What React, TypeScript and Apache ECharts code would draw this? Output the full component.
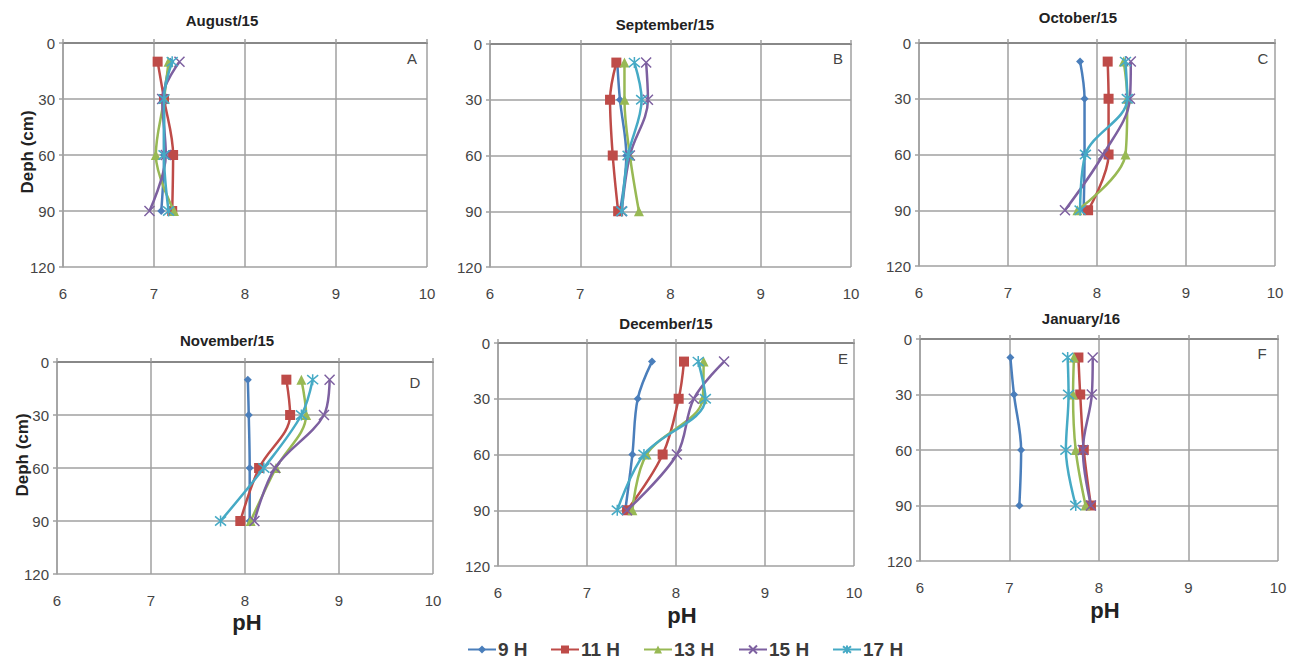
import React, { useEffect, useRef } from "react";
import * as echarts from "echarts";

// ---- data ----
const depths = [10, 30, 60, 90];
const seriesNames = ["9 H", "11 H", "13 H", "15 H", "17 H"];
const panelTitles = ["August/15", "September/15", "October/15", "November/15", "December/15", "January/16"];
const panelLetters = ["A", "B", "C", "D", "E", "F"];
const xTickMin = 6;
const xTickMax = 10;
const yTickMin = 0;
const yTickMax = 120;

// pH per series (9H, 11H, 13H, 15H, 17H) at depths 10, 30, 60, 90
const augustPH = [
  [7.18, 7.11, 7.11, 7.08],
  [7.04, 7.11, 7.21, 7.2],
  [7.16, 7.11, 7.02, 7.22],
  [7.28, 7.09, 7.13, 6.95],
  [7.2, 7.11, 7.11, 7.16],
];
const septemberPH = [
  [7.41, 7.44, 7.51, 7.44],
  [7.4, 7.33, 7.36, 7.42],
  [7.49, 7.49, 7.55, 7.65],
  [7.73, 7.75, 7.55, 7.46],
  [7.6, 7.68, 7.53, 7.46],
];
const octoberPH = [
  [7.81, 7.86, 7.86, 7.85],
  [8.12, 8.13, 8.13, 7.9],
  [8.3, 8.34, 8.32, 7.78],
  [8.38, 8.37, 8.07, 7.64],
  [8.32, 8.34, 7.87, 7.81],
];
const novemberPH = [
  [8.03, 8.04, 8.05, 8.05],
  [8.44, 8.48, 8.15, 7.95],
  [8.6, 8.65, 8.33, 8.06],
  [8.9, 8.84, 8.32, 8.1],
  [8.72, 8.6, 8.2, 7.74],
];
const decemberPH = [
  [7.73, 7.57, 7.51, 7.43],
  [8.09, 8.03, 7.85, 7.45],
  [8.31, 8.3, 7.67, 7.51],
  [8.54, 8.2, 8.01, 7.45],
  [8.25, 8.33, 7.64, 7.34],
];
const januaryPH = [
  [7.01, 7.05, 7.13, 7.11],
  [7.77, 7.79, 7.83, 7.91],
  [7.72, 7.71, 7.74, 7.85],
  [7.93, 7.92, 7.82, 7.91],
  [7.65, 7.66, 7.63, 7.74],
];
const panelData = [augustPH, septemberPH, octoberPH, novemberPH, decemberPH, januaryPH];

// ---- styling / layout ----
const colors = ["#4A7EBB", "#BE4B48", "#98B954", "#7D60A0", "#46AAC5"];
const symbols = [
  "diamond",
  "rect",
  "triangle",
  "path://M0,0L10,10M10,0L0,10",
  "path://M0,0L10,10M10,0L0,10M5,-1L5,11",
];
const symbolSizes = [8, 10, 10, 10, 11];

const grids = [
  { left: 63, top: 43, width: 364, height: 224 },
  { left: 490, top: 44, width: 361, height: 223 },
  { left: 919, top: 43, width: 356, height: 223 },
  { left: 57, top: 362, width: 376, height: 212 },
  { left: 498, top: 343, width: 356, height: 223 },
  { left: 920, top: 339, width: 358, height: 222 },
];
const titlePos = [
  [222, 20], [665, 24], [1078, 17], [227, 340], [666, 323], [1081, 318],
];
const letterPos = [
  [412, 58], [838, 58], [1263, 58], [415, 382], [843, 358], [1262, 353],
];
const legendLeft = [467, 550, 643, 738, 832];

const FONT = '"Liberation Sans", Arial, sans-serif';

export default function App() {
  const ref = useRef<HTMLDivElement>(null);
  useEffect(() => {
    if (!ref.current) return;
    const chart = echarts.init(ref.current, undefined, { renderer: "svg" });

    const xAxes: any[] = [];
    const yAxes: any[] = [];
    const series: any[] = [];
    grids.forEach((g, i) => {
      xAxes.push({
        gridIndex: i,
        type: "value",
        min: xTickMin,
        max: xTickMax,
        interval: 1,
        position: "bottom",
        axisLine: { show: false },
        axisTick: { show: false },
        axisLabel: { margin: 19, fontSize: 15, color: "#444", fontFamily: FONT },
        splitLine: { show: true, lineStyle: { color: "#a0a0a0", width: 1.5 } },
      });
      yAxes.push({
        gridIndex: i,
        type: "value",
        inverse: true,
        min: yTickMin,
        max: yTickMax,
        interval: 30,
        axisLine: { show: true, lineStyle: { color: "#a0a0a0", width: 1.5 } },
        axisTick: { show: true, length: 4, lineStyle: { color: "#a0a0a0", width: 1.5 } },
        axisLabel: { margin: 8, fontSize: 15, color: "#444", fontFamily: FONT },
        splitLine: { show: true, lineStyle: { color: "#a0a0a0", width: 1.5 } },
      });
      const rows = panelData[i];
      rows.forEach((vals, s) => {
        const isPath = s >= 3;
        series.push({
          name: seriesNames[s],
          type: "line",
          xAxisIndex: i,
          yAxisIndex: i,
          data: vals.map((v, k) => [v, depths[k]]),
          smooth: 0.35,
          symbol: symbols[s],
          symbolSize: symbolSizes[s],
          showSymbol: true,
          lineStyle: { color: colors[s], width: 2.5 },
          itemStyle: isPath
            ? { color: colors[s], borderColor: colors[s], borderWidth: 1.5 }
            : { color: colors[s] },
          z: 3 + s,
        });
      });
    });
    grids.forEach((g, i) => {
      xAxes.push({
        gridIndex: i,
        type: "value",
        min: xTickMin,
        max: xTickMax,
        interval: 1,
        position: "top",
        axisLine: { show: true, onZero: false, lineStyle: { color: "#888888", width: 2 } },
        axisTick: { show: true, length: 4, lineStyle: { color: "#a0a0a0", width: 1.5 } },
        axisLabel: { show: false },
        splitLine: { show: false },
      });
    });

    const graphic: any[] = [];
    panelTitles.forEach((t, i) => {
      graphic.push({
        type: "text",
        x: titlePos[i][0],
        y: titlePos[i][1],
        style: {
          text: t,
          fill: "#222",
          font: `bold 15px ${FONT}`,
          textAlign: "center",
          textVerticalAlign: "middle",
        },
      });
      graphic.push({
        type: "text",
        x: letterPos[i][0],
        y: letterPos[i][1],
        style: {
          text: panelLetters[i],
          fill: "#444",
          font: `15px ${FONT}`,
          textAlign: "center",
          textVerticalAlign: "middle",
        },
      });
    });
    [[27, 152], [22, 455]].forEach(([x, y]) => {
      graphic.push({
        type: "text",
        x,
        y,
        rotation: Math.PI / 2,
        style: {
          text: "Deph (cm)",
          fill: "#222",
          font: `bold 17px ${FONT}`,
          textAlign: "center",
          textVerticalAlign: "middle",
        },
      });
    });
    [[247, 622], [682, 615], [1105, 610]].forEach(([x, y]) => {
      graphic.push({
        type: "text",
        x,
        y,
        style: {
          text: "pH",
          fill: "#222",
          font: `bold 22px ${FONT}`,
          textAlign: "center",
          textVerticalAlign: "middle",
        },
      });
    });

    chart.setOption({
      animation: false,
      backgroundColor: "#ffffff",
      grid: grids.map((g) => ({ ...g, containLabel: false })),
      xAxis: xAxes,
      yAxis: yAxes,
      series,
      legend: seriesNames.map((n, i) => ({
        data: [n],
        left: legendLeft[i],
        top: 640,
        padding: 0,
        itemWidth: 28,
        itemHeight: 10,
        textStyle: {
          fontSize: 19,
          fontWeight: "bold",
          color: "#3a3a3a",
          fontFamily: FONT,
          padding: [0, 0, 0, -3],
        },
      })),
      graphic,
    });
    return () => chart.dispose();
  }, []);
  return (
    <div
      ref={ref}
      style={{ position: "fixed", left: 0, top: 0, width: 1294, height: 665, background: "#fff" }}
    />
  );
}
